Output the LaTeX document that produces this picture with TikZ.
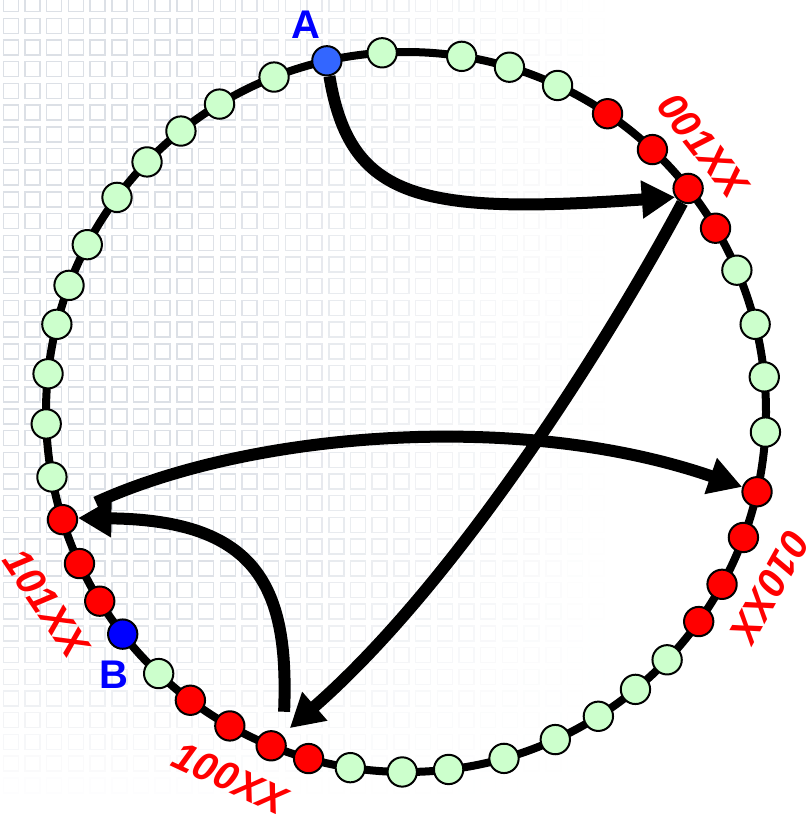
\documentclass[tikz,border=0pt]{standalone}
\usepackage{fontspec}
\setmainfont{Liberation Sans}
\usetikzlibrary{arrows.meta}
\definecolor{dotgreen}{RGB}{204,255,204}
\definecolor{dotred}{RGB}{255,0,0}
\definecolor{dotblueA}{RGB}{51,102,255}
\definecolor{dotblueB}{RGB}{0,0,255}
\definecolor{labblue}{RGB}{0,0,255}
\definecolor{gridc}{RGB}{185,193,205}
\begin{document}
\begin{tikzpicture}[x=0.75pt,y=-0.75pt,
  dot/.style={circle,draw=black,line width=1.5pt,minimum size=22pt,inner sep=0pt},
  gdot/.style={dot,fill=dotgreen},
  rdot/.style={dot,fill=dotred},
  adot/.style={dot,fill=dotblueA},
  bdot/.style={dot,fill=dotblueB},
  ring/.style={line width=6pt},
  conn/.style={line width=9pt,-{Triangle[length=25pt,width=27pt]}},
  lab/.style={text=dotred,font=\fontsize{30}{36}\selectfont\bfseries\itshape,inner sep=0pt},
  ptlab/.style={text=labblue,font=\fontsize{30}{36}\selectfont\bfseries,inner sep=0pt}]
\useasboundingbox (0,0) rectangle (807,814);
% faint background grid
\foreach \i in {0,...,27}{
  \foreach \j in {0,...,37}{
    \pgfmathsetmacro{\gx}{3.3+21.7*\i}
    \pgfmathsetmacro{\gy}{-3.4+21.7*\j}
    \pgfmathsetmacro{\op}{0.5*max(0,min(1,(600-\gx)/420))*max(0,min(1,(790-\gy)/220))}
    \draw[gridc,line width=1.1pt,opacity=\op] (\gx,\gy) rectangle ++(15,15);
  }}
% ring
\draw[ring] (406,412) circle (360);
% dots
\begin{scope}[shift={(406,412)}]
\foreach \a/\s/\nm in {-102.7/adot/A, -93.8/gdot/n2, -81.1/gdot/n3, -73.3/gdot/n4,
  -65.1/gdot/n5, -55.95/rdot/n6, -46.8/rdot/n7, -38.4/rdot/p001, -30.7/rdot/n9,
  -23.2/gdot/n10, -14.1/gdot/n11, -5.6/gdot/n12, 3.2/gdot/n13, 12.8/rdot/p010,
  20.4/rdot/n15, 28.6/rdot/n16, 35.6/rdot/n17, 43.5/gdot/n18, 50.4/gdot/n19,
  57.7/gdot/n20, 65.5/gdot/n21, 74.2/gdot/n22, 83.2/gdot/n23, 90.6/gdot/n24,
  98.9/gdot/n25, 105.7/rdot/n26, 112.0/rdot/p100, 119.3/rdot/n28, 126.8/rdot/n29,
  133.4/gdot/n30, 141.9/bdot/B, 148.3/rdot/n32, 155.1/rdot/n33, 162.6/rdot/p101,
  169.6/gdot/n35, 178.1/gdot/n36, 186.1/gdot/n37, 194.1/gdot/n38, 200.6/gdot/n39,
  207.7/gdot/n40, 216.6/gdot/n41, 224.0/gdot/n42, 231.3/gdot/n43, 238.8/gdot/n44,
  248.5/gdot/n45}
  \node[\s] (\nm) at (\a:360) {};
\end{scope}
% connectors
\draw[conn] (A) .. controls (350,200) and (420,215) .. (p001.214);
\draw[conn,shorten >=7.5pt] (p001.248) .. controls (620,320) and (465,575) .. (p100.45);
\draw[conn,shorten <=16.5pt] (p101.31) .. controls (250,432) and (520,410) .. (p010.162);
\draw[conn,shorten <=18pt] (p100.40) .. controls (289,590) and (260,520) .. (p101.6);
% labels
\node[lab,rotate=-52] (l001) at (703,145) {001XX};
\node[lab,rotate=-119] (l010) at (770,587) {010XX};
\node[lab,rotate=-56] (l101) at (46,603) {101XX};
\node[lab,rotate=-25] (l100) at (230,778) {100XX};
\node[ptlab] (lA) at (306,25) {A};
\node[ptlab] (lB) at (114,675) {B};
\end{tikzpicture}
\end{document}
